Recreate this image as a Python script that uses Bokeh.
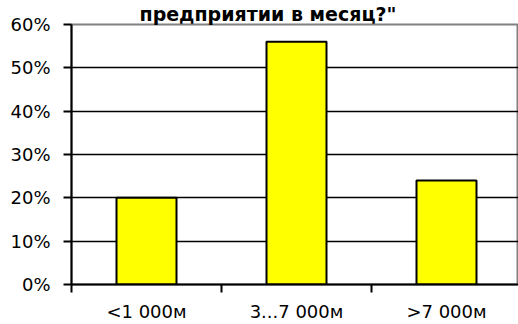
from bokeh.plotting import figure
from bokeh.models import FixedTicker, Range1d, ColumnDataSource
from bokeh.embed import file_html
from bokeh.resources import INLINE

categories = ["<1 000м", "3...7 000м", ">7 000м"]
values = [20, 56, 24]
y_ticks = [0, 10, 20, 30, 40, 50, 60]
title_text = 'предприятии в месяц?"'

positions = [i + 0.5 for i in range(len(categories))]
source = ColumnDataSource(dict(x=positions, top=values))

p = figure(width=518, height=324, output_backend="svg", toolbar_location=None,
           x_range=Range1d(0, 2.98), y_range=Range1d(0, 60),
           min_border_left=71, min_border_right=0, min_border_top=23, min_border_bottom=39)

p.title.text = title_text
p.title.text_font = "DejaVu Sans"
p.title.text_font_size = "19px"
p.title.text_font_style = "bold"
p.title.align = "left"
p.title.offset = 68
p.title.standoff = 0
p.title.text_color = "black"

p.vbar(x="x", top="top", width=0.4, source=source, fill_color="#FFFF00",
       line_color="black", line_width=2)

p.outline_line_color = "#808080"
p.outline_line_width = 2
p.background_fill_color = "white"
p.border_fill_color = "white"

p.xgrid.visible = False
p.ygrid.ticker = FixedTicker(ticks=y_ticks[1:-1])
p.ygrid.grid_line_color = "black"
p.ygrid.grid_line_width = 1.5

p.yaxis.ticker = FixedTicker(ticks=y_ticks)
p.yaxis.major_label_overrides = {t: f"{t}%" for t in y_ticks}
p.yaxis.axis_line_width = 2
p.yaxis.axis_line_color = "black"
p.yaxis.major_tick_line_width = 2
p.yaxis.major_tick_out = 8
p.yaxis.major_tick_in = 0
p.yaxis.minor_tick_line_color = None
p.yaxis.major_label_text_font = "DejaVu Sans"
p.yaxis.major_label_text_font_size = "18px"
p.yaxis.major_label_text_color = "black"
p.yaxis.major_label_standoff = 13

p.xaxis.ticker = FixedTicker(ticks=positions, minor_ticks=[0, 1, 2, 3])
p.xaxis.major_label_overrides = {pos: c for pos, c in zip(positions, categories)}
p.xaxis.axis_line_width = 2
p.xaxis.axis_line_color = "black"
p.xaxis.major_tick_line_color = None
p.xaxis.major_tick_out = 0
p.xaxis.major_tick_in = 0
p.xaxis.minor_tick_line_width = 2
p.xaxis.minor_tick_line_color = "black"
p.xaxis.minor_tick_out = 8
p.xaxis.minor_tick_in = 0
p.xaxis.major_label_text_font = "DejaVu Sans"
p.xaxis.major_label_text_font_size = "18px"
p.xaxis.major_label_text_color = "black"
p.xaxis.major_label_standoff = 8

open("out.html", "w").write(file_html(p, INLINE))
